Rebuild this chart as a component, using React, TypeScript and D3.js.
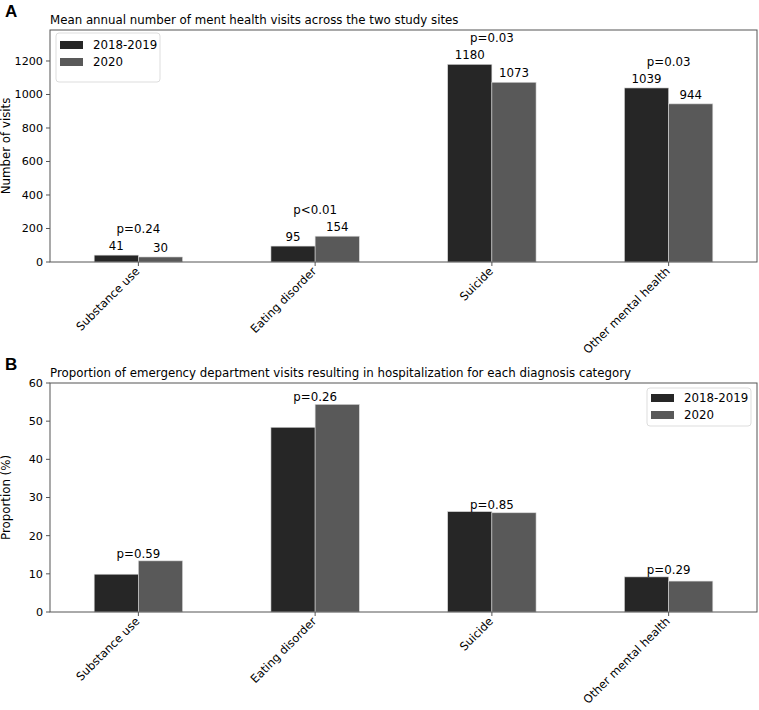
import React from 'react'
import * as d3 from 'd3'

const categories = ['Substance use', 'Eating disorder', 'Suicide', 'Other mental health']
const seriesNames = ['2018-2019', '2020']
const colors = ['#262626', '#595959']

const visitsPre = [41, 95, 1180, 1039]
const visits2020 = [30, 154, 1073, 944]
const visitsP = ['p=0.24', 'p<0.01', 'p=0.03', 'p=0.03']
const visitsTicks = [0, 200, 400, 600, 800, 1000, 1200]

const hospPre = [9.9, 48.4, 26.3, 9.2]
const hosp2020 = [13.4, 54.4, 26.0, 8.1]
const hospP = ['p=0.59', 'p=0.26', 'p=0.85', 'p=0.29']
const hospTicks = [0, 10, 20, 30, 40, 50, 60]

const font = 'DejaVu Sans, sans-serif'
const fs = 11.8
const W = 759, H = 710

type Legend = {x: number, y: number, w: number, h: number, rowY: number}

type PanelProps = {
  top: number
  bottom: number
  yMax: number
  ticks: number[]
  pre: number[]
  post: number[]
  pvals: string[]
  showValues: boolean
  pOffset: number
  title: string
  ylabel: string
  letter: string
  legend: Legend
}

function Panel(props: PanelProps) {
  const left = 50, right = 757
  const {top, bottom, legend} = props

  const x = d3.scaleLinear().domain([-0.5, categories.length - 0.5]).range([left, right])
  const y = d3.scaleLinear().domain([0, props.yMax]).range([bottom, top])
  const bw = x(0.25) - x(0)
  const series = [props.pre, props.post]

  return (
    <g>
      <text x={5} y={top - 13} fontFamily="Liberation Sans, Arial, sans-serif" fontWeight="bold" fontSize={17}>{props.letter}</text>
      <text x={left} y={top - 6} fontFamily={font} fontSize={fs}>{props.title}</text>

      {series.map((vals, si) =>
        vals.map((v, i) => (
          <rect
            key={si + '-' + i}
            x={x(i) - bw + si * bw}
            y={y(v)}
            width={bw}
            height={bottom - y(v)}
            fill={colors[si]}
            stroke="#d8d8d8"
            strokeWidth={0.6}
          />
        ))
      )}

      {props.showValues && series.map((vals, si) =>
        vals.map((v, i) => (
          <text
            key={'v' + si + '-' + i}
            x={x(i) - bw / 2 + si * bw}
            y={y(v) - 5}
            textAnchor="middle"
            fontFamily={font}
            fontSize={fs}
          >{v}</text>
        ))
      )}

      {props.pvals.map((p, i) => {
        const m = Math.max(props.pre[i], props.post[i])
        return (
          <text key={'p' + i} x={x(i)} y={y(m) - props.pOffset} textAnchor="middle" fontFamily={font} fontSize={fs}>{p}</text>
        )
      })}

      <rect x={left} y={top} width={right - left} height={bottom - top} fill="none" stroke="#555" strokeWidth={1} />

      {props.ticks.map(t => (
        <g key={'t' + t} transform={`translate(${left},${y(t)})`}>
          <line x1={-4} x2={0} stroke="#555" />
          <text x={-7} dy="0.35em" textAnchor="end" fontFamily={font} fontSize={11.2}>{t}</text>
        </g>
      ))}

      {categories.map((c, i) => (
        <g key={'c' + i} transform={`translate(${x(i)},${bottom})`}>
          <line y1={0} y2={4} stroke="#555" />
          <text transform="translate(2,10) rotate(-45)" textAnchor="end" fontFamily={font} fontSize={11.5}>{c}</text>
        </g>
      ))}

      <text
        transform={`translate(10,${(top + bottom) / 2}) rotate(-90)`}
        textAnchor="middle"
        fontFamily={font}
        fontSize={fs}
      >{props.ylabel}</text>

      <g transform={`translate(${legend.x},${legend.y})`}>
        <rect x={0} y={0} width={legend.w} height={legend.h} rx={3} fill="#fff" stroke="#ddd" />
        {seriesNames.map((s, si) => (
          <g key={'l' + si} transform={`translate(4,${legend.rowY + si * 17})`}>
            <rect x={0} y={-4} width={23} height={8} fill={colors[si]} />
            <text x={33} dy="0.35em" fontFamily={font} fontSize={fs}>{s}</text>
          </g>
        ))}
      </g>
    </g>
  )
}

export default function App() {
  return (
    <svg width={W} height={H} style={{position: 'absolute', left: 0, top: 0, background: '#fff'}}>
      <rect width={W} height={H} fill="#fff" />
      <Panel
        top={30} bottom={262} yMax={1385} ticks={visitsTicks}
        pre={visitsPre} post={visits2020} pvals={visitsP}
        showValues={true} pOffset={22}
        title="Mean annual number of ment health visits across the two study sites"
        ylabel="Number of visits" letter="A"
        legend={{x: 56, y: 33, w: 104, h: 49, rowY: 12}}
      />
      <Panel
        top={383} bottom={612} yMax={60} ticks={hospTicks}
        pre={hospPre} post={hosp2020} pvals={hospP}
        showValues={false} pOffset={3}
        title="Proportion of emergency department visits resulting in hospitalization for each diagnosis category"
        ylabel="Proportion (%)" letter="B"
        legend={{x: 647, y: 388, w: 104, h: 38, rowY: 10}}
      />
    </svg>
  )
}
